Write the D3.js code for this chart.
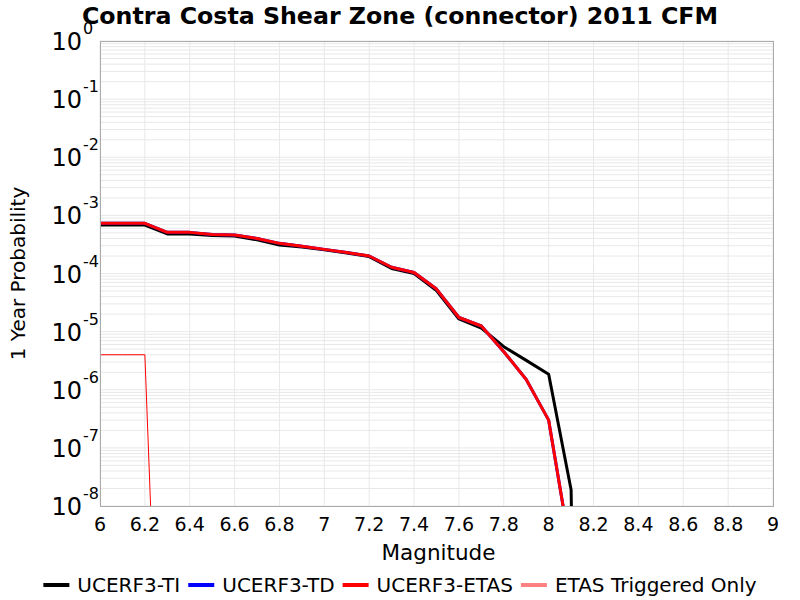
<!DOCTYPE html>
<html>
<head>
<meta charset="utf-8">
<script src="https://cdnjs.cloudflare.com/ajax/libs/d3/7.8.5/d3.min.js"></script>
<style>
  body { margin: 0; background: #fff; }
  text { font-family: "DejaVu Sans", sans-serif; }
</style>
</head>
<body>
<script>
// magnitude bins
const mags = [6.0, 6.1, 6.2, 6.3, 6.4, 6.5, 6.6, 6.7, 6.8, 6.9, 7.0, 7.1, 7.2, 7.3, 7.4, 7.5, 7.6, 7.7, 7.8, 7.9, 8.0, 8.1, 8.2];

// 1 year probabilities
const ti   = [6.8e-4, 6.8e-4, 6.8e-4, 4.8e-4, 4.8e-4, 4.5e-4, 4.4e-4, 3.8e-4, 3.1e-4, 2.85e-4, 2.55e-4, 2.25e-4, 1.95e-4, 1.22e-4, 1.0e-4, 5.1e-5, 1.65e-5, 1.15e-5, 5.5e-6, 3.2e-6, 1.85e-6, 1.9e-8, 1e-30];
const td   = [7.3e-4, 7.3e-4, 7.3e-4, 5.1e-4, 5.1e-4, 4.7e-4, 4.6e-4, 4.0e-4, 3.3e-4, 2.95e-4, 2.6e-4, 2.3e-4, 2.0e-4, 1.28e-4, 1.04e-4, 5.4e-5, 1.75e-5, 1.25e-5, 4.5e-6, 1.5e-6, 3.0e-7, 1.5e-9, 1e-30];
const etas = [7.3e-4, 7.3e-4, 7.3e-4, 5.1e-4, 5.1e-4, 4.7e-4, 4.6e-4, 4.0e-4, 3.3e-4, 2.95e-4, 2.6e-4, 2.3e-4, 2.0e-4, 1.28e-4, 1.04e-4, 5.4e-5, 1.75e-5, 1.25e-5, 4.5e-6, 1.5e-6, 3.0e-7, 1.5e-9, 1e-30];
const trig = [4.0e-6, 4.0e-6, 4.0e-6, 2.5e-16];

const seriesNames = ["UCERF3-TI", "UCERF3-TD", "UCERF3-ETAS", "ETAS Triggered Only"];
const seriesColors = ["#000000", "#0000ff", "#ff0000", "#ff0000"];
const legendColors = ["#000000", "#0000ff", "#ff0000", "#ff8080"];
const seriesWidths = [3, 3, 3, 1];
const seriesData = [ti, td, etas, trig];

const xTicks = [6, 6.2, 6.4, 6.6, 6.8, 7, 7.2, 7.4, 7.6, 7.8, 8, 8.2, 8.4, 8.6, 8.8, 9];
const yExps = [0, -1, -2, -3, -4, -5, -6, -7, -8];

const W = 800, H = 600;
const pLeft = 100, pRight = 773, pTop = 41, pBottom = 506;

const svg = d3.select("body").append("svg")
  .attr("width", W)
  .attr("height", H);

const x = d3.scaleLinear().domain([6, 9]).range([pLeft, pRight]);
const y = d3.scaleLog().domain([1e-8, 1]).range([pBottom, pTop]);

// grid lines
const grid = svg.append("g");
const minorVals = [];
for (let e = -8; e < 0; e++) {
  for (let m = 1; m <= 9; m++) minorVals.push(m * Math.pow(10, e));
}
minorVals.push(1);
grid.selectAll("line.h").data(minorVals).join("line")
  .attr("x1", pLeft).attr("x2", pRight)
  .attr("y1", d => y(d)).attr("y2", d => y(d))
  .attr("stroke", "#e8e8e8").attr("stroke-width", 1);
grid.selectAll("line.v").data(xTicks).join("line")
  .attr("x1", d => x(d)).attr("x2", d => x(d))
  .attr("y1", pTop).attr("y2", pBottom)
  .attr("stroke", "#e8e8e8").attr("stroke-width", 1);

// clip for data lines
svg.append("clipPath").attr("id", "clip")
  .append("rect").attr("x", pLeft).attr("y", pTop)
  .attr("width", pRight - pLeft).attr("height", pBottom - pTop);

const line = d3.line()
  .x(d => x(d[0]))
  .y(d => y(d[1]));

const plot = svg.append("g").attr("clip-path", "url(#clip)");
seriesData.forEach((vals, i) => {
  plot.append("path")
    .datum(vals.map((v, j) => [mags[j], v]))
    .attr("d", line)
    .attr("fill", "none")
    .attr("stroke", seriesColors[i])
    .attr("stroke-width", seriesWidths[i])
    .attr("stroke-linejoin", "round");
});

// plot border
svg.append("rect")
  .attr("x", pLeft + 0.5).attr("y", pTop + 0.5)
  .attr("width", pRight - pLeft).attr("height", pBottom - pTop)
  .attr("fill", "none").attr("stroke", "#aaaaaa").attr("stroke-width", 1);

// x tick labels
svg.append("g").selectAll("text").data(xTicks).join("text")
  .attr("x", d => x(d))
  .attr("y", 531)
  .attr("text-anchor", "middle")
  .attr("font-size", 19)
  .text(d => d3.format("~g")(d));

// y tick labels as 10^n
const yLab = svg.append("g").selectAll("g").data(yExps).join("g")
  .attr("transform", d => `translate(0,${y(Math.pow(10, d))})`);
yLab.append("text")
  .attr("x", 82).attr("y", 9)
  .attr("text-anchor", "end")
  .attr("font-size", 24)
  .text("10");
yLab.append("text")
  .attr("x", 83).attr("y", -7)
  .attr("font-size", 16)
  .text(d => d);

// title
svg.append("text")
  .attr("x", 400).attr("y", 24)
  .attr("text-anchor", "middle")
  .attr("font-size", 23.7)
  .attr("font-weight", "bold")
  .text("Contra Costa Shear Zone (connector) 2011 CFM");

// axis labels
svg.append("text")
  .attr("x", (pLeft + pRight) / 2 + 2).attr("y", 560)
  .attr("text-anchor", "middle")
  .attr("font-size", 21.5)
  .text("Magnitude");
svg.append("text")
  .attr("transform", `translate(25,${(pTop + pBottom) / 2}) rotate(-90)`)
  .attr("text-anchor", "middle")
  .attr("font-size", 20)
  .text("1 Year Probability");

// legend
const legend = svg.append("g");
let lx = 0;
seriesNames.forEach((name, i) => {
  const g = legend.append("g").attr("transform", `translate(${lx},0)`);
  g.append("line")
    .attr("x1", 0).attr("x2", 26)
    .attr("y1", 0).attr("y2", 0)
    .attr("stroke", legendColors[i])
    .attr("stroke-width", 4);
  const t = g.append("text")
    .attr("x", 34).attr("y", 7)
    .attr("font-size", 20)
    .text(name);
  lx += 34 + t.node().getComputedTextLength() + 8;
});
lx -= 8;
legend.attr("transform", `translate(${400 - lx / 2},585)`);
</script>
</body>
</html>
